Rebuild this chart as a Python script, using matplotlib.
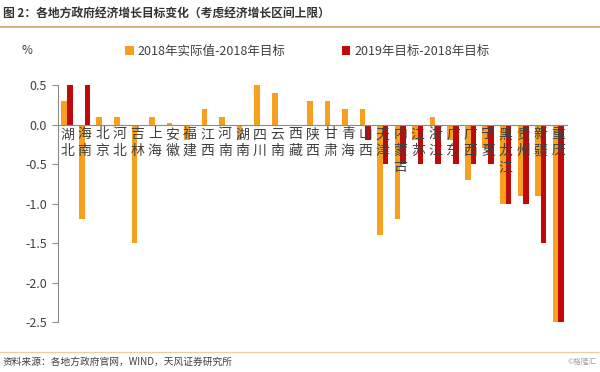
import matplotlib.pyplot as plt
import numpy as np

plt.rcParams['font.family'] = ['Noto Sans CJK SC', 'DejaVu Sans']

provinces = ['湖北', '海南', '北京', '河北', '吉林', '上海', '安徽', '福建', '江西', '河南',
             '湖南', '四川', '云南', '西藏', '陕西', '甘肃', '青海', '山西', '天津', '内蒙古',
             '江苏', '浙江', '广东', '广西', '宁夏', '黑龙江', '贵州', '新疆', '重庆']
# 2018 actual - 2018 target
actual_2018 = [0.3, -1.2, 0.1, 0.1, -1.5, 0.1, 0.02, -0.2, 0.2, 0.1,
               -0.2, 0.5, 0.4, 0.0, 0.3, 0.3, 0.2, 0.2, -1.4, -1.2,
               -0.2, 0.1, -0.2, -0.7, -0.3, -1.0, -0.9, -0.9, -2.5]
# 2019 target - 2018 target
target_2019 = [0.5, 0.5, 0, 0, 0, 0, 0, 0, 0, 0,
               0, 0, 0, 0, 0, 0, 0, -0.2, -0.5, -0.5,
               -0.5, -0.5, -0.5, -0.5, -0.5, -1.0, -1.0, -1.5, -2.5]
yticks = [0.5, 0.0, -0.5, -1.0, -1.5, -2.0, -2.5]

orange = '#F7A01E'
red = '#C00A0A'
grey = '#8C8C8C'
text_c = '#404040'

fig = plt.figure(figsize=(6, 3.72), dpi=100)
ax = fig.add_axes([0.097, 0.134, 0.848, 0.637])

x = np.arange(len(provinces))
w = 0.32
ax.bar(x - w / 2, actual_2018, w, color=orange, label='2018年实际值-2018年目标')
ax.bar(x + w / 2, target_2019, w, color=red, label='2019年目标-2018年目标')

ax.set_xlim(-0.5, len(provinces) - 0.5)
ax.set_ylim(-2.5, 0.5)
ax.set_yticks(yticks)
ax.set_yticklabels([f'{v:.1f}' for v in yticks], fontsize=9, color=text_c)

for s in ['top', 'right']:
    ax.spines[s].set_visible(False)
ax.spines['left'].set_color(grey)
ax.spines['bottom'].set_color(grey)
ax.spines['bottom'].set_position(('data', 0))
ax.tick_params(axis='y', direction='out', length=4, color=grey, pad=4)

ax.set_xticks(x)
ax.set_xticklabels(['\n'.join(p) for p in provinces], fontsize=10,
                   color=text_c, linespacing=1.2, va='top')
ax.tick_params(axis='x', length=0, pad=2)

fig.text(0.045, 0.865, '%', fontsize=8.5, color=text_c, ha='center', va='center')
fig.legend(loc='center', bbox_to_anchor=(0.512, 0.862), ncol=2, frameon=False,
           fontsize=9, handlelength=0.7, handleheight=0.7, handletextpad=0.3,
           columnspacing=4.5, labelcolor=text_c)

# header and footer
fig.text(0.005, 0.965, '图 2：各地方政府经济增长目标变化（考虑经济增长区间上限）',
         fontsize=8.5, fontweight='bold', color='#333333', va='center')
fig.add_artist(plt.Line2D([0, 1], [0.928, 0.928], color='#C9A66B', lw=1.2))
fig.add_artist(plt.Line2D([0, 1], [0.055, 0.055], color='#E8CFA6', lw=1.0))
fig.text(0.005, 0.027, '资料来源：各地方政府官网，WIND，天风证券研究所',
         fontsize=7, color=text_c, va='center')
fig.text(0.995, 0.027, '©格隆汇', fontsize=5.5, color='#A0A0A0', ha='right', va='center')

plt.savefig('out.png', dpi=100)
